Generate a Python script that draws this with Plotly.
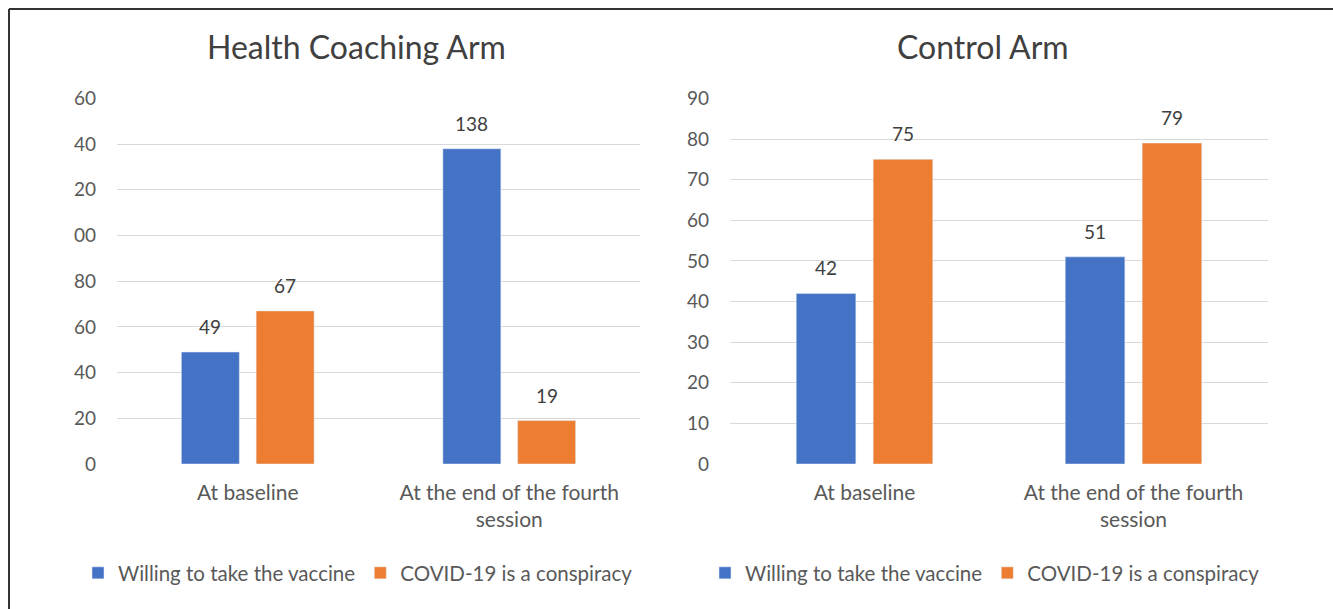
import plotly.graph_objects as go

categories = ["At baseline", "At the end of the fourth<br>session"]
series_names = ["Willing to take the vaccine", "COVID-19 is a conspiracy"]
coaching_willing = [49, 138]
coaching_conspiracy = [67, 19]
control_willing = [42, 51]
control_conspiracy = [75, 79]
coaching_ticks = [0, 20, 40, 60, 80, 100, 120, 140, 160]
coaching_ticktext = ["0", "20", "40", "60", "80", "00", "20", "40", "60"]
control_ticks = [0, 10, 20, 30, 40, 50, 60, 70, 80, 90]
titles = ["Health Coaching Arm", "Control Arm"]

BLUE = "#4472C4"
ORANGE = "#ED7D31"
FONT = "Lato, Open Sans, sans-serif"
TXT = "#404040"
TICK = "#595959"
W, H = 1333, 609
BARGAP = 0.428
GROUPGAP = 0.225
left_dom = [117 / W, 640 / W]
right_dom = [730 / W, 1268 / W]

fig = go.Figure()
annotations = []

def add(vals, name, color, xa, ya, legend, side, dom):
    fig.add_trace(go.Bar(
        x=categories, y=vals, name=name, marker_color=color,
        xaxis=xa, yaxis=ya, legend=legend, showlegend=True,
    ))
    cat_px = (dom[1] - dom[0]) * W / len(categories)
    slot = cat_px * (1 - BARGAP) / 2
    for c, v in zip(categories, vals):
        annotations.append(dict(
            x=c, y=v, xref=xa, yref=ya, text=str(v), showarrow=False,
            xanchor="center", yanchor="bottom", xshift=side * slot / 2, yshift=12,
            font=dict(size=19, color=TXT, family=FONT)))

add(coaching_willing, series_names[0], BLUE, "x", "y", "legend", -1, left_dom)
add(coaching_conspiracy, series_names[1], ORANGE, "x", "y", "legend", 1, left_dom)
add(control_willing, series_names[0], BLUE, "x2", "y2", "legend2", -1, right_dom)
add(control_conspiracy, series_names[1], ORANGE, "x2", "y2", "legend2", 1, right_dom)

ydom = [1 - 464 / H, 1 - 98 / H]
xcommon = dict(showgrid=False, zeroline=False, showline=False, ticks="",
               tickfont=dict(size=21, color=TICK, family=FONT),
               ticklabelstandoff=14, automargin=False)
ycommon = dict(showgrid=True, gridcolor="#D9D9D9", gridwidth=1.3, zeroline=False,
               showline=False, ticks="", tickfont=dict(size=19, color=TICK, family=FONT),
               ticklabelstandoff=20, automargin=False)

legend_common = dict(orientation="h", y=1 - 573 / H, yanchor="middle", xanchor="center",
                     font=dict(size=20.5, color=TICK, family=FONT), bgcolor="rgba(0,0,0,0)",
                     itemwidth=30, tracegroupgap=0)

for t, xc in zip(titles, [357, 983]):
    annotations.append(dict(text=t, x=xc / W, y=1 - 46 / H, xref="paper", yref="paper",
                            showarrow=False, font=dict(size=32, color=TXT, family=FONT),
                            xanchor="center", yanchor="middle"))

fig.update_layout(
    width=W, height=H,
    margin=dict(l=0, r=0, t=0, b=0, pad=0, autoexpand=False),
    paper_bgcolor="white", plot_bgcolor="white",
    barmode="group", bargap=BARGAP, bargroupgap=GROUPGAP,
    font=dict(family=FONT, color=TXT),
    xaxis=dict(domain=left_dom, anchor="y", **xcommon),
    xaxis2=dict(domain=right_dom, anchor="y2", **xcommon),
    yaxis=dict(domain=ydom, anchor="x", range=[0, 160.2], tickvals=coaching_ticks,
               ticktext=coaching_ticktext, **ycommon),
    yaxis2=dict(domain=ydom, anchor="x2", range=[0, 90.1], tickvals=control_ticks, **ycommon),
    legend=dict(x=358 / W, **legend_common),
    legend2=dict(x=985 / W, **legend_common),
    annotations=annotations,
    shapes=[
        dict(type="line", xref="paper", yref="paper", x0=9 / W, x1=1, y0=1 - 9 / H, y1=1 - 9 / H,
             line=dict(color="#333333", width=2)),
        dict(type="line", xref="paper", yref="paper", x0=9 / W, x1=9 / W, y0=0, y1=1 - 9 / H,
             line=dict(color="#333333", width=2)),
    ],
)

fig.write_html("out.html", config={"displayModeBar": False},
               post_script="document.body.style.margin='0';document.body.style.overflow='hidden';")
